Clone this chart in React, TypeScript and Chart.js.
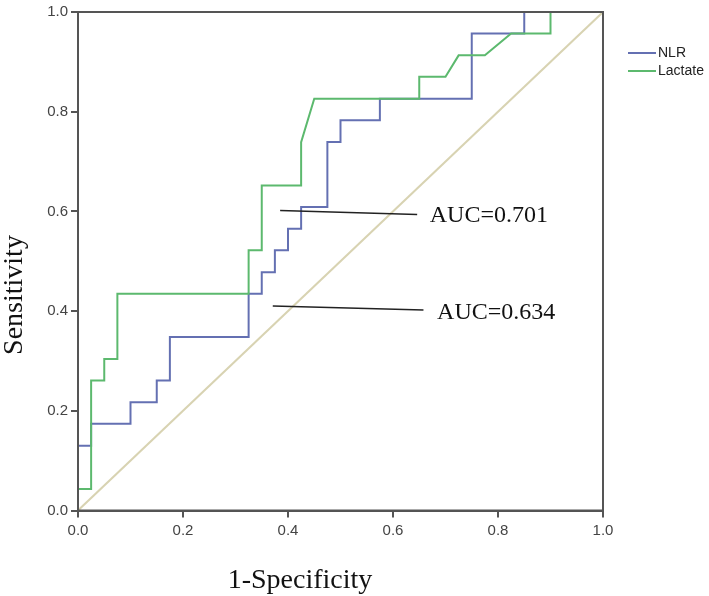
import { useEffect, useRef } from 'react';
import Chart from 'chart.js/auto';

// ROC step curves (x = 1-specificity, y = sensitivity)
const nlrX = [0, 0, 0.025, 0.025, 0.1, 0.1, 0.15, 0.15, 0.175, 0.175, 0.325, 0.325, 0.35, 0.35, 0.375, 0.375, 0.4, 0.4, 0.425, 0.425, 0.475, 0.475, 0.5, 0.5, 0.575, 0.575, 0.75, 0.75, 0.85, 0.85, 1];
const nlrY = [0, 0.13, 0.13, 0.174, 0.174, 0.217, 0.217, 0.261, 0.261, 0.348, 0.348, 0.435, 0.435, 0.478, 0.478, 0.522, 0.522, 0.565, 0.565, 0.609, 0.609, 0.739, 0.739, 0.783, 0.783, 0.826, 0.826, 0.957, 0.957, 1, 1];

const lactateX = [0, 0, 0.025, 0.025, 0.05, 0.05, 0.075, 0.075, 0.325, 0.325, 0.35, 0.35, 0.425, 0.425, 0.45, 0.65, 0.65, 0.7, 0.725, 0.775, 0.825, 0.9, 0.9, 1];
const lactateY = [0, 0.043, 0.043, 0.261, 0.261, 0.304, 0.304, 0.435, 0.435, 0.522, 0.522, 0.652, 0.652, 0.739, 0.826, 0.826, 0.87, 0.87, 0.913, 0.913, 0.957, 0.957, 1, 1];

const refX = [0, 1];
const refY = [0, 1];

const tickValues = [0, 0.2, 0.4, 0.6, 0.8, 1.0];

const seriesNames = ['NLR', 'Lactate'];
const seriesColors = ['#6470b2', '#5cb96e'];

// AUC callouts: label, line start [x, y], line end [x, y], text anchor [x, y]
const aucLabels = ['AUC=0.701', 'AUC=0.634'];
const aucLineFrom = [[0.385, 0.602], [0.371, 0.41]];
const aucLineTo = [[0.646, 0.594], [0.658, 0.402]];
const aucTextAt = [[0.67, 0.579], [0.684, 0.384]];

const toPoints = (xs: number[], ys: number[]) => xs.map((x, i) => ({ x, y: ys[i] }));

const frameAndNotes = {
  id: 'frameAndNotes',
  afterDatasetsDraw(chart: any) {
    const { ctx, chartArea, scales } = chart;
    const { x, y } = scales;
    ctx.save();

    // box around plot
    ctx.strokeStyle = '#555';
    ctx.lineWidth = 2;
    ctx.strokeRect(chartArea.left, chartArea.top, chartArea.right - chartArea.left, chartArea.bottom - chartArea.top);

    // AUC callouts
    ctx.strokeStyle = '#222';
    ctx.lineWidth = 1.5;
    ctx.fillStyle = '#111';
    ctx.font = '24px "Liberation Serif", "Times New Roman", serif';
    ctx.textBaseline = 'alphabetic';
    ctx.textAlign = 'left';
    aucLabels.forEach((label, i) => {
      ctx.beginPath();
      ctx.moveTo(x.getPixelForValue(aucLineFrom[i][0]), y.getPixelForValue(aucLineFrom[i][1]));
      ctx.lineTo(x.getPixelForValue(aucLineTo[i][0]), y.getPixelForValue(aucLineTo[i][1]));
      ctx.stroke();
      ctx.fillText(label, x.getPixelForValue(aucTextAt[i][0]), y.getPixelForValue(aucTextAt[i][1]));
    });

    // axis titles
    ctx.font = '28px "Liberation Serif", "Times New Roman", serif';
    ctx.textAlign = 'center';
    ctx.fillText('1-Specificity', 300, 588);
    ctx.save();
    ctx.translate(15, 295);
    ctx.rotate(-Math.PI / 2);
    ctx.textBaseline = 'middle';
    ctx.fillText('Sensitivity', 0, 0);
    ctx.restore();

    // legend
    ctx.font = '14px "Liberation Sans", Arial, sans-serif';
    ctx.textBaseline = 'middle';
    ctx.textAlign = 'left';
    seriesNames.forEach((name, i) => {
      const ly = 53 + i * 18;
      ctx.strokeStyle = seriesColors[i];
      ctx.lineWidth = 2;
      ctx.beginPath();
      ctx.moveTo(628, ly);
      ctx.lineTo(656, ly);
      ctx.stroke();
      ctx.fillStyle = '#222';
      ctx.fillText(name, 658, ly);
    });

    ctx.restore();
  },
};

export default function App() {
  const canvasRef = useRef<HTMLCanvasElement | null>(null);
  const chartRef = useRef<Chart | null>(null);

  useEffect(() => {
    if (!canvasRef.current) return;

    const axis = (fitSize: number, isX: boolean) => ({
      type: 'linear' as const,
      min: 0,
      max: 1,
      afterBuildTicks: (scale: any) => {
        scale.ticks = tickValues.map((v) => ({ value: v }));
      },
      afterFit: (scale: any) => {
        if (isX) scale.height = fitSize;
        else scale.width = fitSize;
      },
      ticks: {
        callback: (v: any) => Number(v).toFixed(1),
        color: '#444',
        font: { family: '"Liberation Sans", Arial, sans-serif', size: 15 },
        padding: isX ? 4 : 3,
        maxRotation: 0,
      },
      grid: {
        drawOnChartArea: false,
        drawTicks: true,
        tickLength: 7,
        color: '#555',
        lineWidth: 2,
      },
      border: { display: true, color: '#555', width: 2 },
    });

    chartRef.current = new Chart(canvasRef.current, {
      type: 'scatter',
      data: {
        datasets: [
          {
            label: seriesNames[1],
            data: toPoints(lactateX, lactateY),
            showLine: true,
            borderColor: seriesColors[1],
            borderWidth: 2,
            pointRadius: 0,
            tension: 0,
          },
          {
            label: seriesNames[0],
            data: toPoints(nlrX, nlrY),
            showLine: true,
            borderColor: seriesColors[0],
            borderWidth: 2,
            pointRadius: 0,
            tension: 0,
          },
          {
            label: 'Reference',
            data: toPoints(refX, refY),
            showLine: true,
            borderColor: '#d8d3b2',
            borderWidth: 2,
            pointRadius: 0,
          },
        ],
      },
      options: {
        animation: false,
        responsive: true,
        maintainAspectRatio: false,
        layout: { padding: { top: 6, right: 106, left: 0, bottom: 0 } },
        plugins: {
          legend: { display: false },
          tooltip: { enabled: false },
        },
        scales: {
          x: axis(85.5, true),
          y: axis(78, false),
        },
      },
      plugins: [frameAndNotes],
    });

    return () => {
      chartRef.current?.destroy();
    };
  }, []);

  return (
    <div style={{ position: 'fixed', left: 0, top: 0, width: 709, height: 596, background: '#fff' }}>
      <canvas ref={canvasRef}></canvas>
    </div>
  );
}
